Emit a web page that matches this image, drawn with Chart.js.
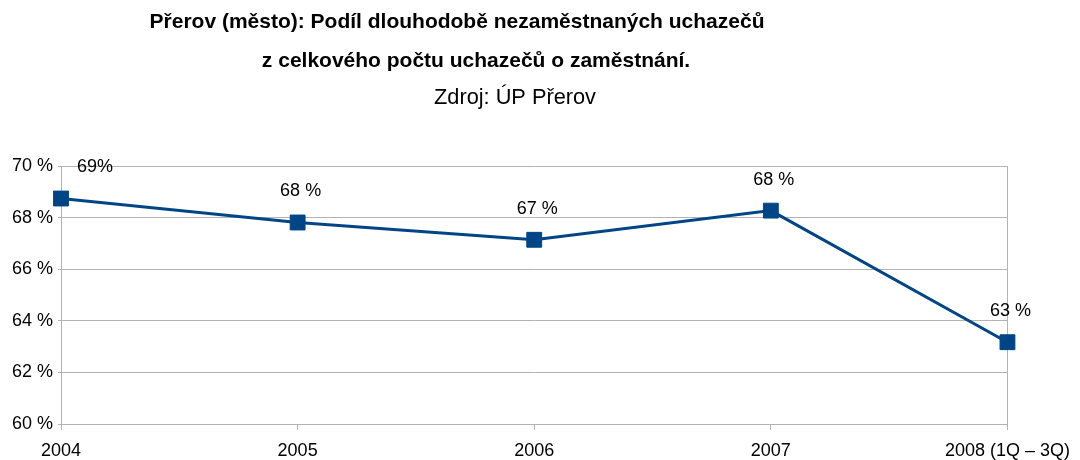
<!DOCTYPE html>
<html lang="cs">
<head>
<meta charset="utf-8">
<title>Přerov (město): Podíl dlouhodobě nezaměstnaných uchazečů</title>
<script src="https://cdn.jsdelivr.net/npm/chart.js@4/dist/chart.umd.min.js"></script>
<style>
  html, body { margin: 0; padding: 0; background: #ffffff; }
  #wrap { width: 1080px; height: 460px; }
</style>
</head>
<body>
<div id="wrap"><canvas id="chart" width="1080" height="460"></canvas></div>
<script>
// Years (the last one covers only the first three quarters)
const categories = ['2004', '2005', '2006', '2007', '2008 (1Q – 3Q)'];
// Share of long-term unemployed among all job seekers, in percent
const shareValues = [68.74, 67.81, 67.14, 68.27, 63.17];
// Value labels printed above the markers
const valueLabels = ['69%', '68 %', '67 %', '68 %', '63 %'];
// Vertical axis range and step
const yTicks = [60, 62, 64, 66, 68, 70];

const titleLines = [
  'Přerov (město): Podíl dlouhodobě nezaměstnaných uchazečů',
  'z celkového počtu uchazečů o zaměstnání.'
];
const sourceLine = 'Zdroj: ÚP Přerov';

const FONT = '"Liberation Sans", Arial, sans-serif';
const GRID = '#b3b3b3';
const LINE = '#004586';

// Heading block drawn above the plot
const headingPlugin = {
  id: 'heading',
  afterDraw(chart) {
    const ctx = chart.ctx;
    ctx.save();
    ctx.fillStyle = '#000000';
    ctx.textAlign = 'center';
    ctx.textBaseline = 'middle';
    ctx.font = 'bold 21px ' + FONT;
    ctx.fillText(titleLines[0], 457, 22, 617);
    ctx.fillText(titleLines[1], 476, 61, 435);
    ctx.font = '22px ' + FONT;
    ctx.fillText(sourceLine, 515, 98, 162);
    ctx.restore();
  }
};

// Value labels placed above each marker
const valueLabelPlugin = {
  id: 'valueLabels',
  afterDatasetsDraw(chart) {
    const ctx = chart.ctx;
    const meta = chart.getDatasetMeta(0);
    ctx.save();
    ctx.fillStyle = '#000000';
    ctx.font = '18px ' + FONT;
    ctx.textAlign = 'center';
    ctx.textBaseline = 'middle';
    meta.data.forEach((pt, i) => {
      const dx = i === 0 ? 34 : 3;
      ctx.fillText(valueLabels[i], pt.x + dx, pt.y - 31);
    });
    ctx.restore();
  }
};

Chart.defaults.font.family = FONT;
Chart.defaults.font.size = 18;
Chart.defaults.color = '#000000';

new Chart(document.getElementById('chart'), {
  type: 'line',
  data: {
    labels: categories,
    datasets: [{
      data: shareValues,
      borderColor: LINE,
      borderWidth: 3,
      backgroundColor: LINE,
      pointStyle: 'rect',
      pointRadius: 10.5,
      pointHoverRadius: 10.5,
      pointBorderWidth: 1,
      pointBackgroundColor: LINE,
      pointBorderColor: LINE,
      tension: 0,
      fill: false
    }]
  },
  options: {
    responsive: false,
    animation: false,
    devicePixelRatio: 1,
    layout: { padding: { top: 166, right: 71, left: 0, bottom: 0 } },
    plugins: {
      legend: { display: false },
      tooltip: { enabled: false },
      title: { display: false }
    },
    scales: {
      x: {
        type: 'category',
        offset: false,
        grid: {
          color: (c) => (c.index === 0 || c.index === categories.length - 1) ? GRID : 'rgba(0,0,0,0)',
          tickColor: GRID,
          tickLength: 6,
          lineWidth: 1
        },
        border: { color: GRID },
        ticks: { padding: 10, maxRotation: 0, autoSkip: false, color: '#000000' },
        afterFit(scale) { scale.height = 36; }
      },
      y: {
        min: yTicks[0],
        max: yTicks[yTicks.length - 1],
        afterBuildTicks(scale) { scale.ticks = yTicks.map(v => ({ value: v })); },
        grid: { color: GRID, tickColor: GRID, tickLength: 3, lineWidth: 1 },
        border: { color: GRID },
        ticks: {
          padding: 5,
          color: '#000000',
          callback: (v) => v + ' %'
        },
        afterFit(scale) { scale.width = 61; }
      }
    }
  },
  plugins: [headingPlugin, valueLabelPlugin]
});
</script>
</body>
</html>
